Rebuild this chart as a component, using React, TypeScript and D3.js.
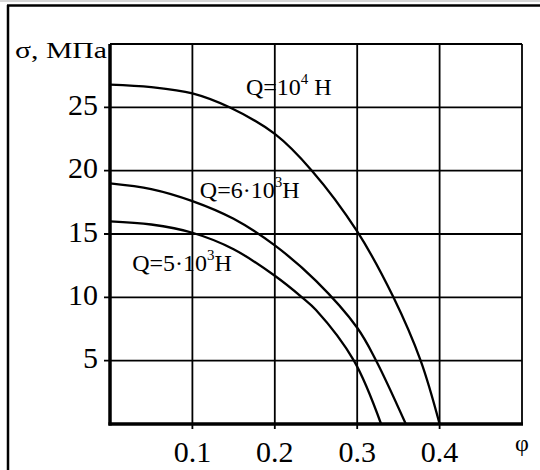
import * as d3 from 'd3'

const width = 540
const height = 470

const margin = { top: 44, right: 18, bottom: 46, left: 110 }

// φ values and σ (MPa)
const phiA = [0, 0.05, 0.1, 0.145, 0.2, 0.245, 0.3, 0.344, 0.377, 0.4]
const sigmaA = [26.8, 26.6, 26.1, 25, 22.9, 20, 15.2, 10, 5, 0]

const phiB = [0, 0.05, 0.1, 0.15, 0.2, 0.25, 0.3, 0.323, 0.359]
const sigmaB = [19, 18.55, 17.6, 16.2, 14.1, 11.3, 7.6, 5, 0]

const phiC = [0, 0.05, 0.1, 0.15, 0.2, 0.233, 0.25, 0.296, 0.329]
const sigmaC = [16, 15.75, 15.1, 13.8, 11.7, 10, 9.0, 5, 0]

const xTicks = [0.1, 0.2, 0.3, 0.4]
const yTicks = [5, 10, 15, 20, 25]

const labels = [
  { base: 'Q=10', exp: '4', unit: ' Н', phi: 0.165, sigma: 25.95 },
  { base: 'Q=6·10', exp: '3', unit: 'Н', phi: 0.109, sigma: 17.86 },
  { base: 'Q=5·10', exp: '3', unit: 'Н', phi: 0.027, sigma: 12.06 },
]

const font = '"Liberation Serif", "Times New Roman", serif'

function App() {
  const innerWidth = width - margin.left - margin.right
  const innerHeight = height - margin.top - margin.bottom

  const xScale = d3.scaleLinear().domain([0, 0.5]).range([0, innerWidth])
  const yScale = d3.scaleLinear().domain([0, 30]).range([innerHeight, 0])

  const lineGen = d3
    .line<[number, number]>()
    .x(d => xScale(d[0]))
    .y(d => yScale(d[1]))
    .curve(d3.curveCatmullRom.alpha(0.5))

  const series = [
    d3.zip(phiA, sigmaA) as [number, number][],
    d3.zip(phiB, sigmaB) as [number, number][],
    d3.zip(phiC, sigmaC) as [number, number][],
  ]

  return (
    <svg
      width={width}
      height={height}
      style={{ position: 'absolute', left: 0, top: 0, background: '#fff', fontFamily: font }}
    >
      {/* page frame */}
      <line x1={0} x2={width} y1={1} y2={1} stroke="#c8c8c8" strokeWidth={1.5} />
      <line x1={7} x2={width} y1={5.5} y2={5.5} stroke="#000" strokeWidth={2.5} />
      <line x1={8} x2={8} y1={5} y2={height} stroke="#000" strokeWidth={2.5} />

      <g transform={`translate(${margin.left},${margin.top})`}>
        {xTicks.map(t => (
          <g key={t} transform={`translate(${xScale(t)},0)`}>
            <line y1={0} y2={innerHeight + 5} stroke="#000" strokeWidth={1.8} />
            <text
              y={innerHeight + 38}
              textAnchor="middle"
              fontSize={30}
            >{t}</text>
          </g>
        ))}
        {yTicks.map(t => (
          <g key={t} transform={`translate(0,${yScale(t)})`}>
            <line x1={-6} x2={innerWidth} stroke="#000" strokeWidth={1.8} />
            <text
              x={-12}
              dy="0.25em"
              textAnchor="end"
              fontSize={30}
            >{t}</text>
          </g>
        ))}

        {/* top / right frame */}
        <line x1={0} x2={innerWidth} y1={0} y2={0} stroke="#000" strokeWidth={1.8} />
        <line x1={innerWidth} x2={innerWidth} y1={0} y2={innerHeight} stroke="#000" strokeWidth={1.8} />
        {/* axes */}
        <line x1={0} x2={0} y1={0} y2={innerHeight + 1.5} stroke="#000" strokeWidth={3.5} />
        <line x1={-1.5} x2={innerWidth + 1} y1={innerHeight} y2={innerHeight} stroke="#000" strokeWidth={3.5} />

        {series.map((s, i) => (
          <path key={i} d={lineGen(s) ?? ''} fill="none" stroke="#000" strokeWidth={2.3} />
        ))}

        {labels.map(l => (
          <text key={l.base} x={xScale(l.phi)} y={yScale(l.sigma)} fontSize={24}>
            {l.base}
            <tspan fontSize={15} dy={-11}>{l.exp}</tspan>
            <tspan dy={11}>{l.unit}</tspan>
          </text>
        ))}

        <text x={innerWidth} y={innerHeight + 27} textAnchor="middle" fontSize={24}>φ</text>
      </g>

      <text x={15} y={58} fontSize={24} textLength={92} lengthAdjust="spacingAndGlyphs">σ, МПа</text>
    </svg>
  )
}

export default App
